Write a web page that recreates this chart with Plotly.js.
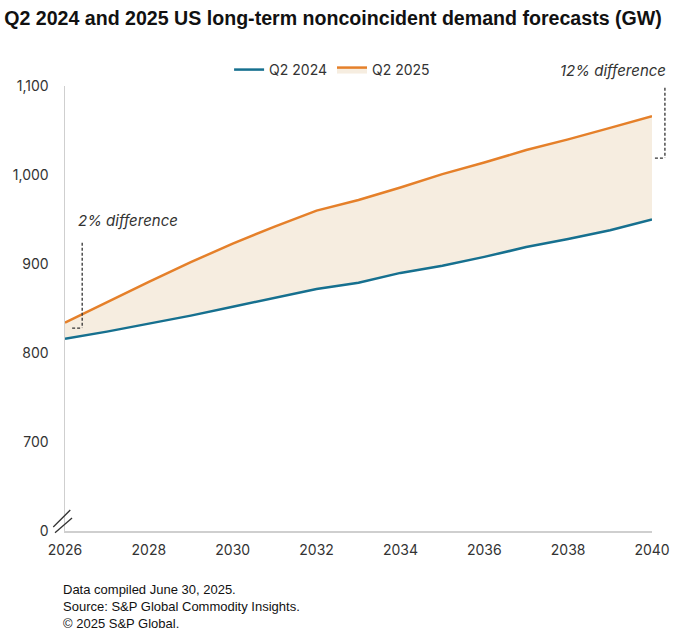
<!DOCTYPE html>
<html>
<head>
<meta charset="utf-8">
<script src="https://cdn.plot.ly/plotly-3.0.1.min.js"></script>
<style>html,body{margin:0;padding:0;background:#fff;}#chart{width:699px;height:642px;}</style>
</head>
<body>
<div id="chart"></div>
<script>
// Data (GW)
const years = [2026, 2027, 2028, 2029, 2030, 2031, 2032, 2033, 2034, 2035, 2036, 2037, 2038, 2039, 2040];
const q2_2024 = [816, 824, 833, 842, 852, 862, 872, 879, 890, 898, 908, 919, 928, 938, 950];
const q2_2025 = [834, 857, 880, 902, 923, 942, 960, 972, 986, 1001, 1014, 1028, 1040, 1053, 1066];
// Axis (600 is drawn as the broken "0")
const yTickVals = [600, 700, 800, 900, 1000, 1100];
const yTickText = ["0", "700", "800", "900", "1,000", "1,100"];
const xTickVals = [2026, 2028, 2030, 2032, 2034, 2036, 2038, 2040];

const blue = "#16708f";
const orange = "#e5802a";
const fillCol = "rgba(244,232,216,0.8)";
const tickFont = {family: "Inter, Roboto, sans-serif", size: 14, color: "#333"};

const traces = [
  {x: years, y: q2_2024, name: "Q2 2024", type: "scatter", mode: "lines",
   line: {color: blue, width: 2.5}, hoverinfo: "x+y"},
  {x: years, y: q2_2025, name: "Q2 2025", type: "scatter", mode: "lines",
   line: {color: orange, width: 2.5}, fill: "tonexty", fillcolor: fillCol, hoverinfo: "x+y"}
];

const dash = {color: "#333", width: 1.3, dash: "3px,2px"};
const brk = {color: "#333", width: 1.3};
const layout = {
  width: 699, height: 642,
  margin: {l: 65, r: 47, t: 86, b: 111},
  paper_bgcolor: "#fff", plot_bgcolor: "#fff",
  showlegend: true,
  title: {text: "Q2 2024 and 2025 US long-term noncoincident demand forecasts (GW)",
          font: {family: "Liberation Sans, Arial, sans-serif", size: 19.6, color: "#111", weight: "bold"},
          x: 0.006, xanchor: "left", y: 0.971, yanchor: "middle"},
  legend: {orientation: "h", x: 0.455, xanchor: "center", y: 1.036, yanchor: "middle",
           font: {family: "Inter, Roboto, sans-serif", size: 14, color: "#333"},
           itemwidth: 30, traceorder: "normal"},
  xaxis: {range: [2026, 2040], tickvals: xTickVals, ticktext: xTickVals.map(String),
          showgrid: false, zeroline: false, showline: true, linecolor: "#cfcfcf", linewidth: 1.5,
          ticks: "", tickfont: tickFont, ticklabelstandoff: 6, fixedrange: true},
  yaxis: {range: [600, 1100], tickvals: yTickVals, ticktext: yTickText,
          showgrid: false, zeroline: false, showline: true, linecolor: "#cfcfcf", linewidth: 1.5,
          ticks: "", tickfont: tickFont, ticklabelstandoff: 12, fixedrange: true},
  annotations: [
    {x: 2026.27, y: 949, xref: "x", yref: "y", text: "<i>2% difference</i>", showarrow: false,
     xanchor: "left", yanchor: "middle", font: {family: "Inter, Roboto, sans-serif", size: 15, color: "#333"}},
    {x: 1.028, y: 1.034, xref: "paper", yref: "paper", text: "<i>12% difference</i>", showarrow: false,
     xanchor: "right", yanchor: "middle", font: {family: "Inter, Roboto, sans-serif", size: 15, color: "#333"}},
    {x: -0.006, y: -0.11, xref: "paper", yref: "paper", xanchor: "left", yanchor: "top", align: "left",
     showarrow: false,
     text: "Data compiled June 30, 2025.<br>Source: S&P Global Commodity Insights.<br>© 2025 S&P Global.",
     font: {family: "Liberation Sans, Arial, sans-serif", size: 13, color: "#111"}}
  ],
  shapes: [
    // 2% bracket
    {type: "line", xref: "x", yref: "y", x0: 2026.41, x1: 2026.41, y0: 924, y1: 828, line: dash},
    {type: "line", xref: "x", yref: "y", x0: 2026.17, x1: 2026.41, y0: 828, y1: 828, line: dash},
    // 12% bracket
    {type: "line", xref: "paper", yref: "paper", x0: 1.022, x1: 1.022, y0: 0.996, y1: 0.838, line: dash},
    {type: "line", xref: "paper", yref: "paper", x0: 1.005, x1: 1.022, y0: 0.838, y1: 0.838, line: dash},
    // axis break marks
    {type: "line", xref: "paper", yref: "paper", x0: -0.020, x1: 0.009, y0: 0.009, y1: 0.047, line: brk},
    {type: "line", xref: "paper", yref: "paper", x0: -0.017, x1: 0.012, y0: -0.004, y1: 0.029, line: brk}
  ]
};

Plotly.newPlot("chart", traces, layout, {displayModeBar: false, staticPlot: true});
</script>
</body>
</html>
